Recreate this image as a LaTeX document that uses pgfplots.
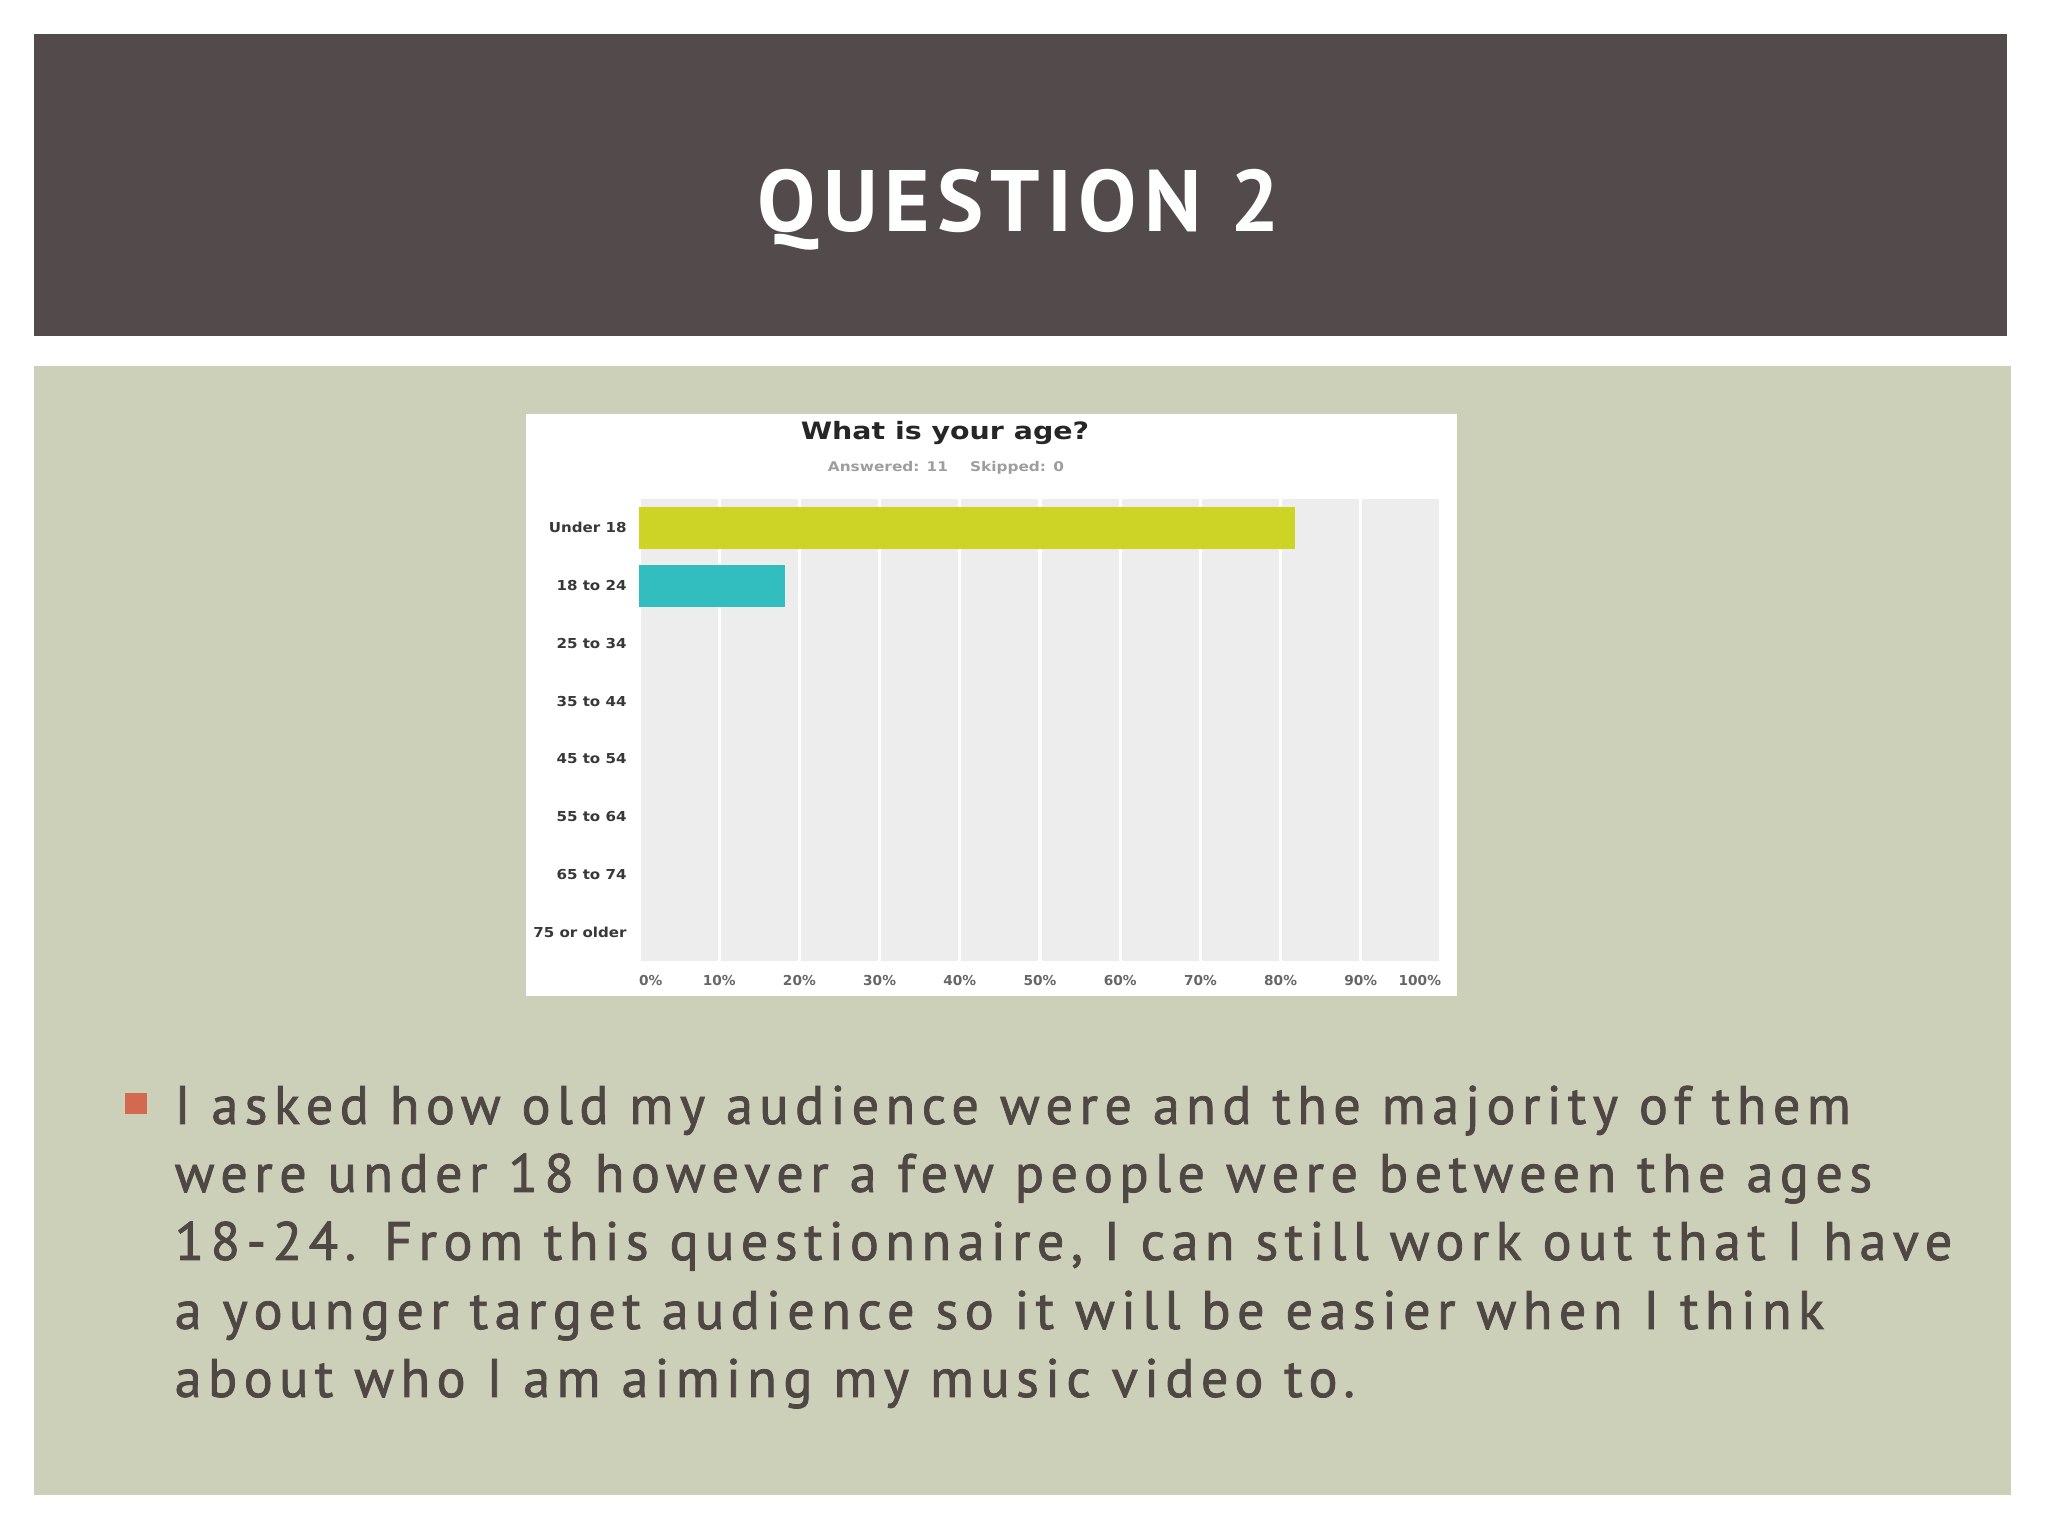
\documentclass[border=0pt]{standalone}
\usepackage{fontspec}
\usepackage{pgfplots}
\pgfplotsset{compat=1.18}
\setmainfont{PT Sans}
\newfontfamily\charttitlefont[FakeStretch=1.19]{DejaVu Sans}
\newfontfamily\chartsubfont[FakeStretch=1.15]{DejaVu Sans}
\newfontfamily\ylabelfont[FakeStretch=1.1]{DejaVu Sans}
\newfontfamily\xlabelfont{DejaVu Sans}
\newfontfamily\slidefont[LetterSpace=12, FakeBold=1.5]{PT Sans}
\newfontfamily\headfont[LetterSpace=8]{PT Sans}
\definecolor{band}{HTML}{534A4B}
\definecolor{panel}{HTML}{CDD0B9}
\definecolor{bodytext}{HTML}{4F4744}
\definecolor{bullet}{HTML}{D36A50}
\definecolor{plotbg}{HTML}{EDEDEE}
\definecolor{lime}{HTML}{CDD426}
\definecolor{tealbar}{HTML}{32BEBE}

\begin{document}
\begin{tikzpicture}
% slide background
\fill[white] (0,0) rectangle (20.48,15.36);
\fill[band] (0.34,12.00) rectangle (20.07,15.02);
\fill[panel] (0.34,0.41) rectangle (20.11,11.70);
\node[anchor=base, text=white, inner sep=0pt, font=\headfont\bfseries\fontsize{24.8}{28}\selectfont]
  at (10.19,13.04) {QUESTION 2};

% chart image box
\fill[white] (5.26,5.40) rectangle (14.57,11.22);
\node[anchor=base, inner sep=0pt, text=black!85, font=\charttitlefont\bfseries\fontsize{6.8}{8}\selectfont]
  at (9.45,10.96) {What is your age?};
\node[anchor=base, inner sep=0pt, text=black!38, font=\chartsubfont\bfseries\fontsize{3.8}{4.5}\selectfont]
  at (8.88,10.64) {Answered: 11};
\node[anchor=base, inner sep=0pt, text=black!38, font=\chartsubfont\bfseries\fontsize{3.8}{4.5}\selectfont]
  at (10.17,10.64) {Skipped: 0};

\begin{axis}[
  at={(6.39cm,5.75cm)}, anchor=south west,
  scale only axis,
  width=8.02cm, height=4.62cm,
  xbar, bar width=0.418cm, bar shift=0pt,
  xmin=0, xmax=100,
  ymin=-0.5, ymax=7.5,
  y dir=reverse,
  axis background/.style={fill=plotbg},
  axis line style={draw=none},
  tick style={draw=none},
  xtick={0,10,...,100},
  xticklabels={\makebox[0pt][l]{0\%},10\%,20\%,30\%,40\%,50\%,60\%,70\%,80\%,90\%,\makebox[0pt][r]{100\%}},
  ytick={0,...,7},
  yticklabels={Under 18, 18 to 24, 25 to 34, 35 to 44, 45 to 54, 55 to 64, 65 to 74, 75 or older},
  xmajorgrids=true,
  grid style={white, line width=0.9pt},
  x tick label style={font=\xlabelfont\bfseries\fontsize{3.9}{4.5}\selectfont, text=black!60, yshift=-0.02cm},
  y tick label style={font=\ylabelfont\bfseries\fontsize{3.9}{4.5}\selectfont, text=black!78, xshift=0.15cm},
]
\addplot[fill=lime, draw=none] coordinates {(81.8,0)};
\addplot[fill=tealbar, draw=none] coordinates {(18.2,1)};
\end{axis}

% bullet text
\fill[bullet] (1.25,4.22) rectangle (1.47,4.43);
\begin{scope}[every node/.style={anchor=base west, inner sep=0pt, text=bodytext, font=\slidefont\fontsize{15.4}{18}\selectfont}]
\node at (1.74,4.12) {I asked how old my audience were and the majority of them};
\node at (1.74,3.44) {were under 18 however a few people were between the ages};
\node at (1.74,2.76) {18-24. From this questionnaire, I can still work out that I have};
\node at (1.74,2.07) {a younger target audience so it will be easier when I think};
\node at (1.74,1.39) {about who I am aiming my music video to.};
\end{scope}
\end{tikzpicture}
\end{document}
